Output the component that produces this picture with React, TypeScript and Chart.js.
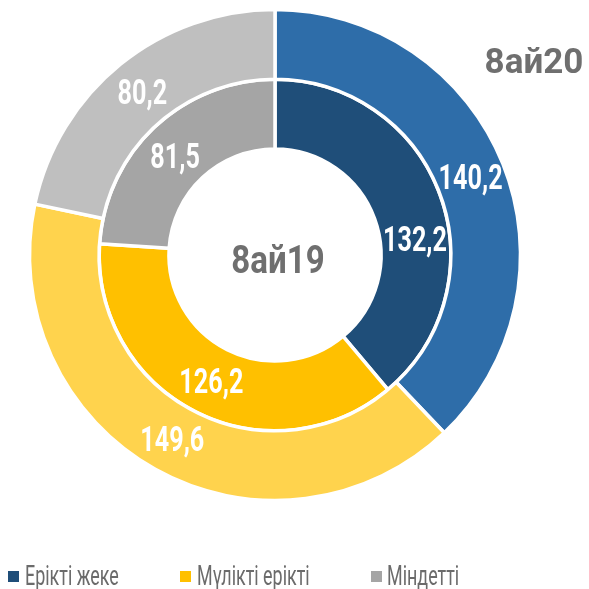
import React, { useEffect, useRef } from "react";
import { Chart, registerables } from "chart.js";

Chart.register(...registerables);

const categories = ["Ерікті жеке", "Мүлікті ерікті", "Міндетті"];
const seriesNames = ["8ай20", "8ай19"];
const series2020 = [140.2, 149.6, 80.2];
const series2019 = [132.2, 126.2, 81.5];

const outerColors = ["#2E6DA9", "#FFD34D", "#BFBFBF"];
const innerColors = ["#1F4E79", "#FFC000", "#A5A5A5"];

// label angle nudges in degrees (outer ring, inner ring)
const labelShiftDeg = [
  [0, 0, 0],
  [13.5, 0, -2],
];

const FONT = "Roboto, 'Noto Sans', sans-serif";

const sliceLabels = {
  id: "sliceLabels",
  afterDatasetsDraw(chart: any) {
    const ctx = chart.ctx;
    chart.data.datasets.forEach((ds: any, di: number) => {
      const meta = chart.getDatasetMeta(di);
      meta.data.forEach((arc: any, i: number) => {
        const p = arc.getProps(
          ["x", "y", "startAngle", "endAngle", "innerRadius", "outerRadius"],
          true
        );
        const shift = ((labelShiftDeg[di] && labelShiftDeg[di][i]) || 0) * (Math.PI / 180);
        const a = (p.startAngle + p.endAngle) / 2 + shift;
        const r = (p.innerRadius + p.outerRadius) / 2;
        const x = p.x + Math.cos(a) * r;
        const y = p.y + Math.sin(a) * r;
        const text = String(ds.data[i]).replace(".", ",");
        const size = 35;
        ctx.save();
        ctx.font = `bold ${size}px ${FONT}`;
        ctx.fillStyle = "#ffffff";
        ctx.textAlign = "center";
        ctx.textBaseline = "alphabetic";
        ctx.translate(x, y + size * 0.355);
        ctx.scale(0.72, 1);
        ctx.fillText(text, 0, 0);
        ctx.restore();
      });
    });
  },
};

export default function App() {
  const canvasRef = useRef<HTMLCanvasElement | null>(null);

  useEffect(() => {
    if (!canvasRef.current) return;
    const chart = new Chart(canvasRef.current, {
      type: "doughnut",
      data: {
        labels: categories,
        datasets: [
          {
            label: seriesNames[0],
            data: series2020,
            backgroundColor: outerColors,
            borderColor: "#ffffff",
            borderWidth: 3.5,
          },
          {
            label: seriesNames[1],
            data: series2019,
            backgroundColor: innerColors,
            borderColor: "#ffffff",
            borderWidth: 3.5,
          },
        ],
      },
      options: {
        responsive: false,
        animation: false,
        radius: 245.5,
        cutout: "43.2%",
        layout: { padding: { left: 30, right: 69, top: 10, bottom: 89 } },
        plugins: {
          legend: { display: false },
          tooltip: { enabled: false },
        },
        events: [],
      } as any,
      plugins: [sliceLabels],
    });
    return () => chart.destroy();
  }, []);

  const legendItems = [
    { sq: 8, tx: 25 },
    { sq: 180, tx: 197 },
    { sq: 371, tx: 387 },
  ];

  return (
    <div
      style={{
        position: "absolute",
        left: 0,
        top: 0,
        width: 589,
        height: 589,
        background: "#ffffff",
        overflow: "hidden",
        fontFamily: FONT,
      }}
    >
      <canvas
        ref={canvasRef}
        width={589}
        height={589}
        style={{ position: "absolute", left: 0, top: 0, width: 589, height: 589, display: "block" }}
      />
      {/* outer ring title */}
      <div
        style={{
          position: "absolute",
          left: 434,
          top: 43.5,
          width: 200,
          textAlign: "center",
          fontSize: 35,
          lineHeight: "35px",
          fontWeight: 700,
          color: "#6F6F6F",
          whiteSpace: "nowrap",
        }}
      >
        {seriesNames[0]}
      </div>
      {/* inner ring (center) title */}
      <div
        style={{
          position: "absolute",
          left: 177.5,
          top: 241,
          width: 200,
          textAlign: "center",
          fontSize: 38,
          lineHeight: "38px",
          fontWeight: 700,
          color: "#6F6F6F",
          whiteSpace: "nowrap",
          transform: "scaleX(0.87)",
          transformOrigin: "50% 50%",
        }}
      >
        {seriesNames[1]}
      </div>
      {/* legend */}
      {categories.map((c, i) => (
        <React.Fragment key={c}>
          <div
            style={{
              position: "absolute",
              left: legendItems[i].sq,
              top: 571,
              width: 11,
              height: 11,
              background: innerColors[i],
            }}
          />
          <div
            style={{
              position: "absolute",
              left: legendItems[i].tx,
              top: 562,
              fontSize: 28,
              lineHeight: "28px",
              color: "#6B6B6B",
              whiteSpace: "nowrap",
              transform: "scaleX(0.64)",
              transformOrigin: "0 50%",
            }}
          >
            {c}
          </div>
        </React.Fragment>
      ))}
    </div>
  );
}
